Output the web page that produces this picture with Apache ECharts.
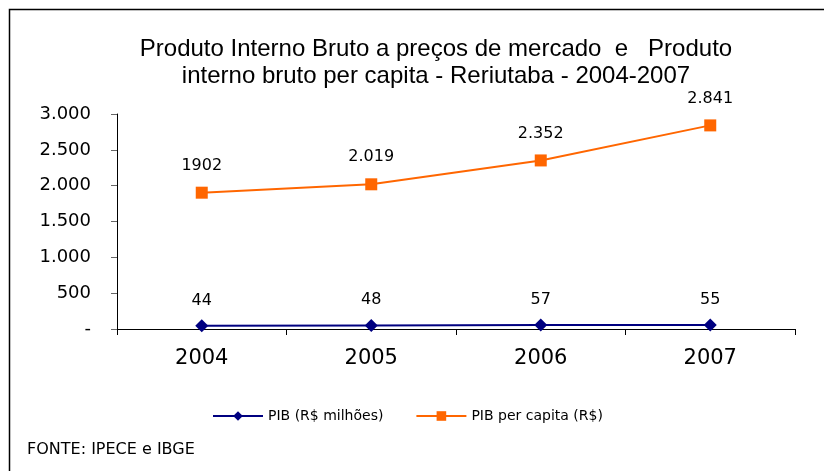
<!DOCTYPE html>
<html>
<head>
<meta charset="utf-8">
<script src="https://cdn.jsdelivr.net/npm/echarts@6/dist/echarts.min.js"></script>
<style>
  html,body{margin:0;padding:0;background:#fff;}
  #chart{width:824px;height:471px;}
</style>
</head>
<body>
<div id="chart"></div>
<script>
// dados
var anos = ['2004', '2005', '2006', '2007'];
var pib = [44, 48, 57, 55];
var pibPerCapita = [1902, 2019, 2352, 2841];
var rotulosPerCapita = ['1902', '2.019', '2.352', '2.841'];
var tituloTexto = 'Produto Interno Bruto a preços de mercado  e   Produto\ninterno bruto per capita - Reriutaba - 2004-2007';
var fonteTexto = 'FONTE: IPECE e IBGE';

var mychart = echarts.init(document.getElementById('chart'));

// formata 2500 -> 2.500, 0 -> -
function fmt(v) {
    if (v == 0) return '-';
    var s = String(v);
    return s.replace(/\B(?=(\d{3})+(?!\d))/g, '.');
}

var option = {
    backgroundColor: '#fff',
    animation: false,
    title: {
        text: tituloTexto,
        left: 431,
        top: 31,
        textAlign: 'center',
        textStyle: {
            fontFamily: 'Liberation Sans',
            fontSize: 24,
            fontWeight: 'normal',
            lineHeight: 27,
            color: '#000'
        }
    },
    grid: {
        left: 117,
        right: 29,
        top: 114,
        bottom: 142
    },
    legend: {
        left: 207,
        top: 404,
        itemWidth: 50,
        itemHeight: 12,
        itemGap: 32,
        textStyle: { fontFamily: 'DejaVu Sans', fontSize: 14, color: '#000' },
        data: ['PIB (R$ milhões)', 'PIB per capita (R$)']
    },
    xAxis: {
        type: 'category',
        data: anos,
        boundaryGap: true,
        axisLine: { lineStyle: { color: '#000', width: 1 } },
        axisTick: { show: true, length: 6, inside: false, lineStyle: { color: '#000' } },
        axisLabel: {
            margin: 19,
            fontFamily: 'DejaVu Sans',
            fontSize: 21,
            color: '#000'
        }
    },
    yAxis: {
        type: 'value',
        min: 0,
        max: 3000,
        interval: 500,
        splitLine: { show: false },
        axisLine: { show: true, lineStyle: { color: '#000', width: 1 } },
        axisTick: { show: true, length: 6, lineStyle: { color: '#666' } },
        axisLabel: {
            margin: 26,
            fontFamily: 'DejaVu Sans',
            fontSize: 18,
            color: '#000',
            formatter: fmt
        }
    },
    series: [
        {
            name: 'PIB (R$ milhões)',
            type: 'line',
            data: pib,
            symbol: 'diamond',
            symbolSize: [13, 13],
            lineStyle: { color: '#000080', width: 2 },
            itemStyle: { color: '#000080' },
            label: {
                show: true,
                position: 'top',
                distance: 11,
                fontFamily: 'DejaVu Sans',
                fontSize: 16,
                color: '#000'
            }
        },
        {
            name: 'PIB per capita (R$)',
            type: 'line',
            data: pibPerCapita,
            symbol: 'rect',
            symbolSize: 12,
            lineStyle: { color: '#FF6600', width: 2 },
            itemStyle: { color: '#FF6600' },
            label: {
                show: true,
                position: 'top',
                distance: 13,
                fontFamily: 'DejaVu Sans',
                fontSize: 16,
                color: '#000',
                formatter: function (p) { return rotulosPerCapita[p.dataIndex]; }
            }
        }
    ],
    graphic: [
        {
            type: 'rect',
            shape: { x: 9.5, y: 9.5, width: 900, height: 600 },
            style: { fill: 'none', stroke: '#000', lineWidth: 1.5 },
            silent: true
        },
        {
            type: 'text',
            left: 27,
            top: 442,
            style: {
                text: fonteTexto,
                fontFamily: 'DejaVu Sans',
                fontSize: 16,
                fill: '#000'
            }
        }
    ]
};

mychart.setOption(option);
</script>
</body>
</html>
